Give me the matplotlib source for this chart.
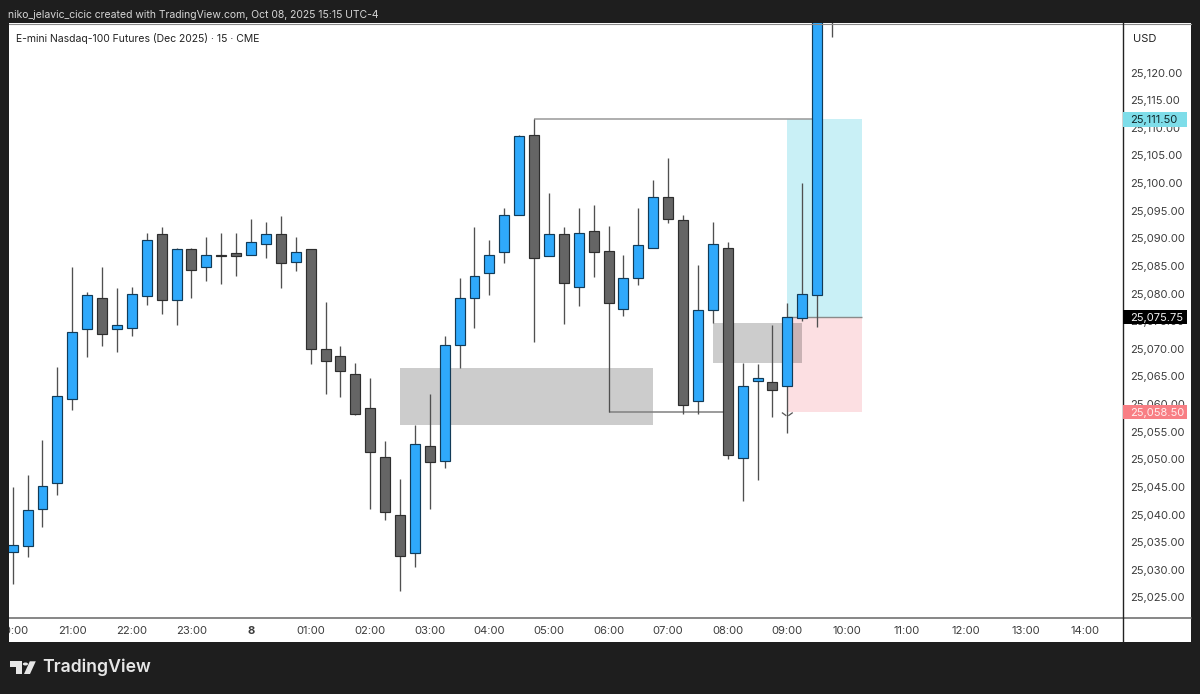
import matplotlib
matplotlib.use('Agg')
import matplotlib.pyplot as plt
from matplotlib.patches import Rectangle, Polygon, Circle, FancyBboxPatch
from matplotlib.transforms import blended_transform_factory

# 15 min candles, index 0 is 20:00
opens = [25033.25, 25034.25, 25041.0, 25045.75, 25061.0, 25073.5, 25079.25, 25073.5,
         25073.75, 25079.5, 25090.75, 25078.75, 25088.0, 25084.75, 25087.0, 25087.25,
         25087.0, 25089.0, 25090.75, 25085.75, 25088.0, 25070.0, 25068.75, 25065.5,
         25059.25, 25050.5, 25040.0, 25033.0, 25052.5, 25049.75, 25070.75, 25079.25,
         25083.75, 25087.5, 25094.25, 25108.75, 25086.75, 25090.75, 25081.25, 25091.25,
         25087.75, 25077.25, 25082.75, 25088.25, 25097.5, 25093.25, 25060.5, 25077.0,
         25088.25, 25050.25, 25064.25, 25064.0, 25063.25, 25075.5, 25079.75, 25131.0]
highs = [25045.0, 25047.25, 25053.5, 25066.75, 25084.75, 25080.25, 25084.75, 25081.0,
         25081.25, 25091.0, 25092.0, 25088.25, 25088.25, 25090.25, 25091.0, 25091.0,
         25093.5, 25093.0, 25094.0, 25090.25, 25088.0, 25078.5, 25070.5, 25067.5,
         25064.75, 25053.25, 25046.5, 25056.25, 25061.75, 25072.25, 25082.75, 25092.0,
         25089.75, 25095.5, 25108.75, 25111.5, 25098.25, 25092.0, 25095.5, 25096.0,
         25092.25, 25087.0, 25095.5, 25100.5, 25104.5, 25094.25, 25085.25, 25093.0,
         25089.25, 25067.5, 25067.25, 25074.25, 25078.25, 25100.0, 25140.0, 25136.0]
lows = [25027.5, 25032.25, 25037.75, 25043.5, 25059.0, 25068.5, 25070.5, 25069.5,
        25072.25, 25078.0, 25076.25, 25074.25, 25079.25, 25082.25, 25081.75, 25083.25,
        25087.0, 25086.5, 25081.0, 25084.0, 25067.25, 25061.75, 25061.25, 25058.0,
        25041.0, 25039.0, 25026.25, 25030.5, 25041.0, 25048.5, 25066.5, 25073.75,
        25079.75, 25085.5, 25094.25, 25071.25, 25086.75, 25074.5, 25077.75, 25083.0,
        25058.5, 25076.0, 25081.5, 25088.25, 25092.75, 25058.25, 25058.25, 25074.75,
        25050.0, 25042.5, 25046.25, 25057.75, 25054.75, 25075.0, 25074.0, 25126.5]
closes = [25034.5, 25040.75, 25045.25, 25061.5, 25073.0, 25079.75, 25072.75, 25074.25,
          25080.0, 25089.75, 25078.75, 25088.0, 25084.25, 25087.0, 25086.75, 25086.75,
          25089.25, 25090.75, 25085.5, 25087.5, 25070.0, 25067.75, 25066.0, 25058.25,
          25051.25, 25040.5, 25032.5, 25052.75, 25049.5, 25070.75, 25079.25, 25083.25,
          25087.0, 25094.25, 25108.5, 25086.5, 25090.75, 25082.0, 25091.0, 25087.5,
          25078.25, 25082.75, 25088.75, 25097.5, 25093.5, 25059.75, 25077.0, 25089.0,
          25050.75, 25063.25, 25064.75, 25062.5, 25075.75, 25080.0, 25135.0, 25134.0]

hour_ticks = list(range(0, 76, 4))
hour_labels = ['20:00', '21:00', '22:00', '23:00', '8', '01:00', '02:00', '03:00', '04:00', '05:00',
               '06:00', '07:00', '08:00', '09:00', '10:00', '11:00', '12:00', '13:00', '14:00']
price_ticks = list(range(25025, 25125, 5))

target = 25111.5
entry = 25075.75
stop = 25058.5

W, H = 1200, 694
BG = '#1e1e1e'
UP = '#2fa9fb'
UP_EDGE = '#123b58'
DOWN = '#656565'
DOWN_EDGE = '#2e2e2e'
WICK = '#505050'
FONT = 'Inter'


def fx(x):
    return x / W


def fy(y):
    return 1 - y / H


def price_tag(fig, ax, price, text, bg, fg):
    tr = blended_transform_factory(fig.transFigure, ax.transData)
    fig.add_artist(Rectangle((fx(1122.5), price - 1.27), 64 / W, 2.54, transform=tr,
                             facecolor=bg, edgecolor='none', zorder=6))
    fig.add_artist(plt.Text(fx(1130), price, text, transform=tr, color=fg, fontsize=8.0,
                            family=FONT, va='center_baseline', ha='left', zorder=7))


def main():
    plt.rcParams['font.family'] = FONT
    fig = plt.figure(figsize=(W / 100, H / 100), dpi=100, facecolor=BG)

    # white panel behind chart and both axes
    fig.add_artist(Rectangle((fx(8.5), fy(641.5)), 1182.5 / W, 618.5 / H, facecolor='white',
                             edgecolor='none', zorder=-1))

    ax = fig.add_axes([fx(8.5), fy(618), 1114 / W, 595 / H], zorder=1)
    ax.patch.set_alpha(0)
    ax.set_xlim(-0.282, 74.5)
    ax.set_ylim(25021.29, 25128.96)

    # long position box
    ax.add_patch(Rectangle((52, entry), 5, target - entry, facecolor='#c9f0f6', edgecolor='none', zorder=1))
    ax.add_patch(Rectangle((52, stop), 5, entry - stop, facecolor='#fcdfe2', edgecolor='none', zorder=1))
    ax.hlines(entry, 52, 57, color='#8a8a8a', lw=1, zorder=1.5)

    # zones
    ax.add_patch(Rectangle((26, 25056.25), 17, 10.25, facecolor='black', alpha=0.2, edgecolor='none', zorder=2))
    ax.add_patch(Rectangle((47, 25067.5), 6, 7.25, facecolor='black', alpha=0.2, edgecolor='none', zorder=2))

    # swing lines
    ax.hlines(target, 35, 54, color='#999999', lw=1.1, zorder=2.5)
    ax.hlines(stop, 40, 48, color='#808080', lw=1.1, zorder=2.5)

    for i, (o, h, l, c) in enumerate(zip(opens, highs, lows, closes)):
        is_up = c >= o
        ax.vlines(i, l, h, color=WICK, lw=0.95, zorder=3)
        ax.bar(i, abs(c - o), bottom=min(o, c), width=0.67,
               color=UP if is_up else DOWN, edgecolor=UP_EDGE if is_up else DOWN_EDGE,
               linewidth=0.85, zorder=4)

    # small arrow under the entry candle
    ax.plot([51.67, 51.9], [stop - 0.1, stop - 0.55], color='#555555', lw=0.9, zorder=5)
    ax.plot([52.33, 52.1], [stop - 0.1, stop - 0.55], color='#555555', lw=0.9, zorder=5)

    for name in ['left', 'top', 'right', 'bottom']:
        ax.spines[name].set_visible(False)

    ax.set_xticks(hour_ticks)
    ax.set_xticklabels(hour_labels, fontsize=8.1, color='#3c3c3c')
    ax.get_xticklabels()[4].set_fontweight('bold')
    ax.set_yticks(price_ticks)
    ax.set_yticklabels([f'{p:,.2f}' for p in price_ticks], fontsize=8.0, color='#3c3c3c')
    ax.yaxis.tick_right()
    ax.tick_params(axis='x', length=0, pad=5.5)
    ax.tick_params(axis='y', length=0, pad=5.5)

    # frame lines
    fig.add_artist(plt.Line2D([fx(8.5), fx(1191)], [fy(23.5), fy(23.5)], color='#8a8a8a', lw=0.8, zorder=5))
    fig.add_artist(plt.Line2D([fx(8.5), fx(1191)], [fy(618), fy(618)], color='#666666', lw=1.1, zorder=5))
    fig.add_artist(plt.Line2D([fx(1122.5), fx(1122.5)], [fy(23), fy(641.5)], color='#222222', lw=1.0, zorder=5))
    # hides the left part of the first time label
    fig.add_artist(Rectangle((0, fy(641.5)), fx(8.5), 618.5 / H, facecolor=BG, edgecolor='none', zorder=5))

    price_tag(fig, ax, target, '25,111.50', '#7edde9', '#10262a')
    price_tag(fig, ax, entry, '25,075.75', '#000000', '#f0f0f0')
    price_tag(fig, ax, stop, '25,058.50', '#f87e84', '#ffeeee')

    fig.text(fx(8.5), fy(15.5), 'niko_jelavic_cicic created with TradingView.com, Oct 08, 2025 15:15 UTC-4',
             color='#d6d6d6', fontsize=7.5, va='center', ha='left', zorder=7)
    fig.text(fx(16), fy(39), 'E-mini Nasdaq-100 Futures (Dec 2025) \u00b7 15 \u00b7 CME',
             color='#222222', fontsize=7.5, va='center', ha='left', zorder=7)
    fig.text(fx(1133.5), fy(38.5), 'USD', color='#222222', fontsize=8.0, va='center', ha='left', zorder=7)

    # logo
    logo = '#e6e6e6'
    fig.add_artist(Polygon([(fx(10), fy(661.3)), (fx(21.7), fy(661.3)), (fx(21.7), fy(674)), (fx(16.3), fy(674)),
                            (fx(16.3), fy(666.7)), (fx(10), fy(666.7))], facecolor=logo, edgecolor='none', zorder=7))
    fig.add_artist(Polygon([(fx(29.8), fy(661.3)), (fx(35.8), fy(661.3)), (fx(30), fy(674)), (fx(24), fy(674))],
                           facecolor=logo, edgecolor='none', zorder=7))
    fig.add_artist(Circle((fx(25.4), fy(664)), 2.6 / W, facecolor=logo, edgecolor='none', zorder=7))
    fig.text(fx(42), fy(667.5), 'TradingView', color=logo, fontsize=12.7, fontweight='semibold',
             va='center', ha='left', zorder=7)

    fig.savefig('out.png', dpi=100, facecolor=BG)


if __name__ == '__main__':
    main()
